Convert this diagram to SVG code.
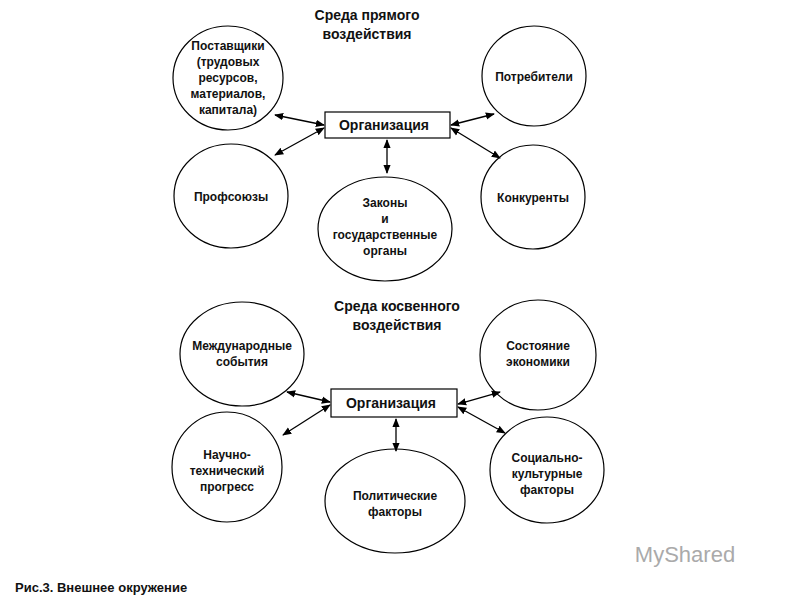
<svg xmlns="http://www.w3.org/2000/svg" width="800" height="600" viewBox="0 0 800 600">
<defs>
<marker id="a" viewBox="0 0 10 10" refX="9" refY="5" markerWidth="7" markerHeight="7" orient="auto-start-reverse"><path d="M0,1 L10,5 L0,9 z" fill="#000"/></marker>
<style>
text{font-family:"Liberation Sans",Arial,sans-serif;font-weight:bold;fill:#111;text-anchor:middle}
.n{font-size:12px}
.t{font-size:14px}
.b{font-size:14px}
ellipse,rect{fill:#fff;stroke:#000;stroke-width:1.2}
line{stroke:#000;stroke-width:1.3;marker-start:url(#a);marker-end:url(#a)}
</style>
</defs>
<rect width="800" height="600" fill="#fff" style="stroke:none"/>
<text class="t" x="367" y="20">Среда прямого</text>
<text class="t" x="367" y="39">воздействия</text>
<g id="org1"><rect x="325" y="112" width="125" height="26"/><text class="b" x="384" y="130">Организация</text></g>
<g id="supp"><ellipse cx="228" cy="78" rx="55" ry="52"/><text class="n" x="228" y="50">Поставщики</text><text class="n" x="228" y="66">(трудовых</text><text class="n" x="228" y="82">ресурсов,</text><text class="n" x="228" y="98">материалов,</text><text class="n" x="228" y="114">капитала)</text></g>
<g id="cons"><ellipse cx="534" cy="76" rx="52" ry="50"/><text class="n" x="534" y="81">Потребители</text></g>
<g id="prof"><ellipse cx="231" cy="196" rx="57" ry="52"/><text class="n" x="231" y="201">Профсоюзы</text></g>
<g id="law"><ellipse cx="385" cy="229" rx="67" ry="52"/><text class="n" x="385" y="207">Законы</text><text class="n" x="385" y="223">и</text><text class="n" x="385" y="239">государственные</text><text class="n" x="385" y="255">органы</text></g>
<g id="comp"><ellipse cx="533" cy="197" rx="52" ry="52"/><text class="n" x="533" y="202">Конкуренты</text></g>
<text class="t" x="397" y="311">Среда косвенного</text>
<text class="t" x="397" y="330">воздействия</text>
<g id="org2"><rect x="331" y="389" width="126" height="28"/><text class="b" x="391" y="408">Организация</text></g>
<g id="intl"><ellipse cx="242" cy="354" rx="62" ry="52"/><text class="n" x="242" y="350">Международные</text><text class="n" x="242" y="366">события</text></g>
<g id="econ"><ellipse cx="538" cy="355" rx="58" ry="55"/><text class="n" x="538" y="350">Состояние</text><text class="n" x="538" y="366">экономики</text></g>
<g id="sci"><ellipse cx="227" cy="467" rx="55" ry="55"/><text class="n" x="227" y="459">Научно-</text><text class="n" x="227" y="475">технический</text><text class="n" x="227" y="491">прогресс</text></g>
<g id="pol"><ellipse cx="395" cy="501" rx="70" ry="52"/><text class="n" x="395" y="500">Политические</text><text class="n" x="395" y="516">факторы</text></g>
<g id="soc"><ellipse cx="547" cy="470" rx="57" ry="53"/><text class="n" x="547" y="462">Социально-</text><text class="n" x="547" y="478">культурные</text><text class="n" x="547" y="494">факторы</text></g>
<g id="connectors">
<line x1="275" y1="115" x2="324" y2="125"/>
<line x1="324" y1="128" x2="275" y2="155"/>
<line x1="387" y1="140" x2="387" y2="173"/>
<line x1="451" y1="125" x2="494" y2="114"/>
<line x1="451" y1="128" x2="500" y2="158"/>
<line x1="287" y1="392" x2="330" y2="402"/>
<line x1="330" y1="405" x2="283" y2="435"/>
<line x1="396" y1="419" x2="396" y2="451"/>
<line x1="458" y1="404" x2="500" y2="392"/>
<line x1="458" y1="407" x2="505" y2="433"/>
</g>
<text x="15" y="592" style="font-size:13px;text-anchor:start">Рис.3. Внешнее окружение</text>
<text x="685" y="562" style="font-size:22px;font-weight:normal;fill:#aaa">MyShared</text>
</svg>
